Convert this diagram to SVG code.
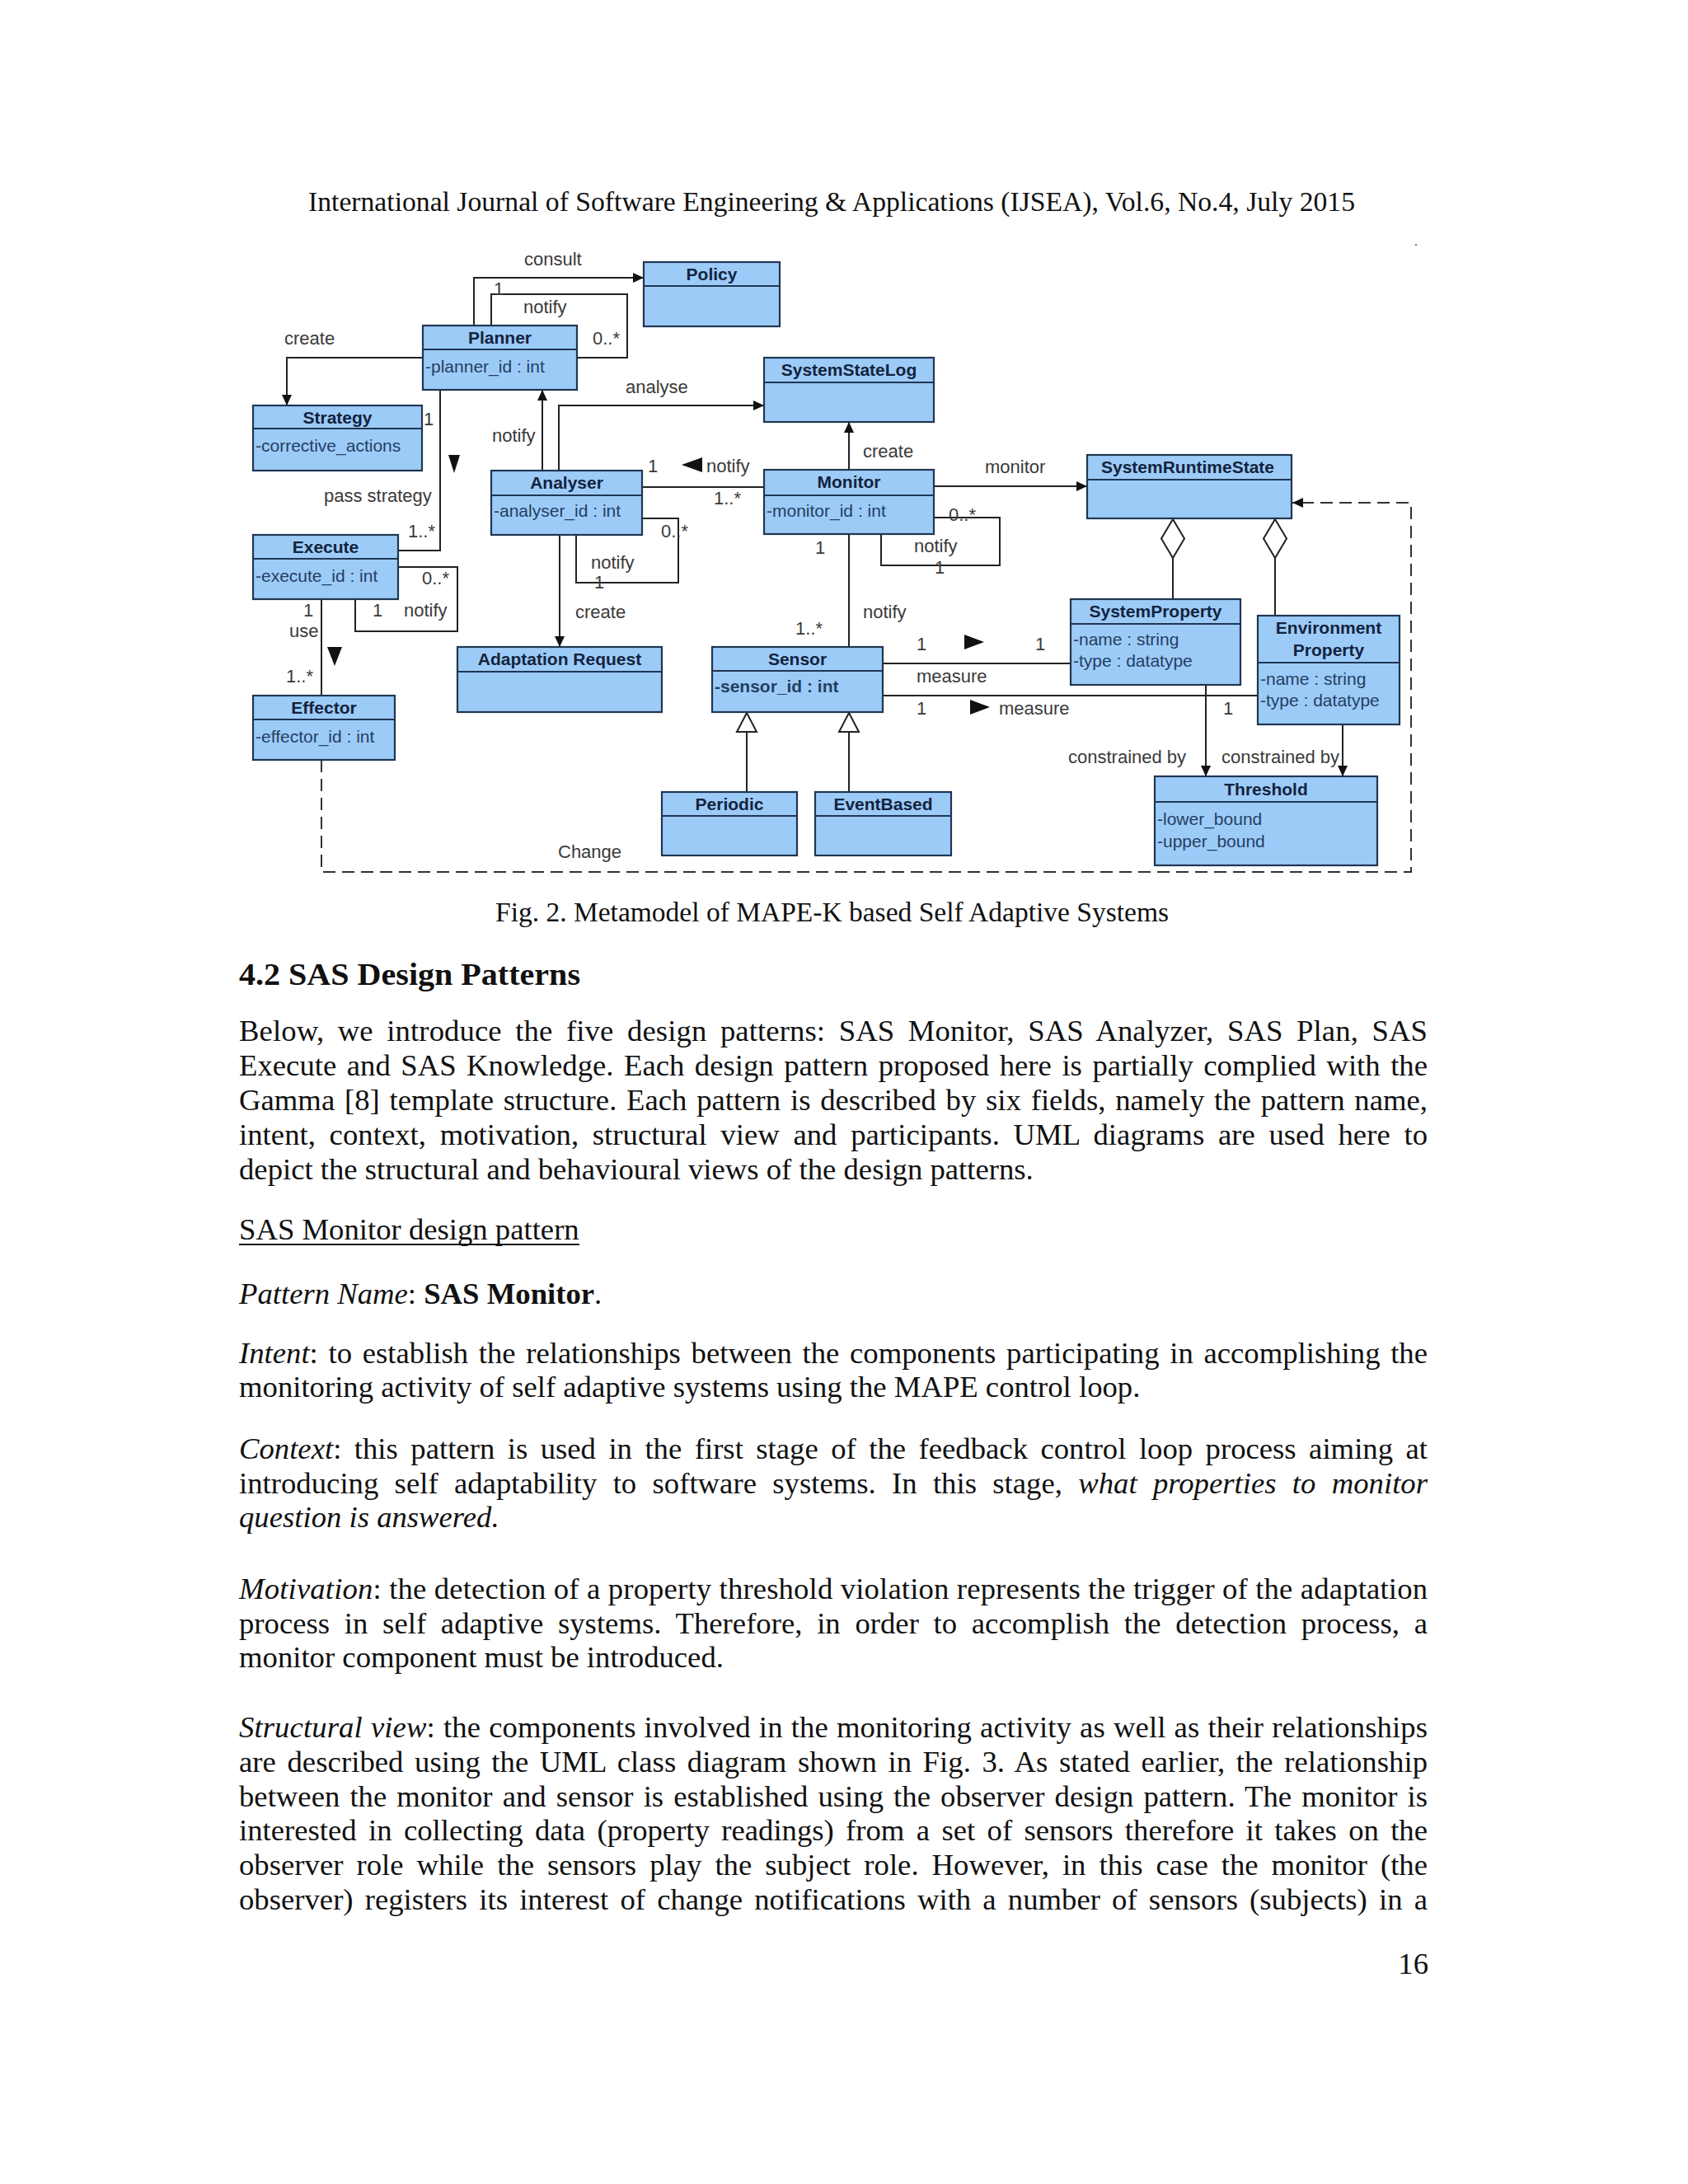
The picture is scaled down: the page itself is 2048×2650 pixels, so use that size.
<svg xmlns="http://www.w3.org/2000/svg" width="2048" height="2650" viewBox="0 0 2048 2650">
<defs>
<style>
.box{fill:#9dcbf8;stroke:#1f3652;stroke-width:2.2}
.sep{stroke:#1f3652;stroke-width:2.2}
.ttl{font-family:"Liberation Sans",Arial,sans-serif;font-size:21px;font-weight:bold;fill:#13233d;text-anchor:middle}
.att{font-family:"Liberation Sans",Arial,sans-serif;font-size:21px;fill:#233f62}
.lbl{font-family:"Liberation Sans",Arial,sans-serif;font-size:22px;fill:#3a3a3a}
.ln{fill:none;stroke:#222;stroke-width:2}
.dash{fill:none;stroke:#333;stroke-width:2;stroke-dasharray:15 8}
.tri{fill:#111}
.hol{fill:#fff;stroke:#222;stroke-width:2}
.pg{font-family:"Liberation Serif","Times New Roman",serif;fill:#111}
.bd{font-size:36.7px}
</style>
<marker id="arr" markerUnits="userSpaceOnUse" markerWidth="14" markerHeight="14" refX="13" refY="7" orient="auto">
<path d="M0,1 L13,7 L0,13 z" fill="#111"/>
</marker>
</defs>
<rect width="2048" height="2650" fill="#ffffff"/>

<!-- page header -->
<text class="pg" x="374" y="256" font-size="33.5" textLength="1270" lengthAdjust="spacingAndGlyphs">International Journal of Software Engineering &amp; Applications (IJSEA), Vol.6, No.4, July 2015</text>
<rect x="1717" y="296" width="2" height="2" fill="#777"/>

<!-- connectors -->
<g id="connectors">
<path class="ln" d="M575,395 V337 H781" marker-end="url(#arr)"/>
<path class="ln" d="M596,395 V357 H761 V434 H700"/>
<path class="ln" d="M513,434 H348 V492" marker-end="url(#arr)"/>
<path class="ln" d="M534,473 V668 H483"/>
<path class="ln" d="M658,571 V473" marker-end="url(#arr)"/>
<path class="ln" d="M678,571 V492 H927" marker-end="url(#arr)"/>
<path class="ln" d="M779,591 H927"/>
<path class="ln" d="M779,629 H823 V707 H699 V649"/>
<path class="ln" d="M679,649 V785" marker-end="url(#arr)"/>
<path class="ln" d="M1030,570 V512" marker-end="url(#arr)"/>
<path class="ln" d="M1133,590 H1319" marker-end="url(#arr)"/>
<path class="ln" d="M1133,628 H1213 V686 H1069 V648"/>
<path class="ln" d="M1030,648 V785"/>
<path class="ln" d="M1071,805 H1299"/>
<path class="ln" d="M1071,844 H1526"/>
<path class="ln" d="M1423,677 V727"/>
<path class="ln" d="M1547,677 V747"/>
<polygon class="hol" points="1423,630 1437,653.5 1423,677 1409,653.5"/>
<polygon class="hol" points="1547,630 1561,653.5 1547,677 1533,653.5"/>
<path class="ln" d="M1463,831 V942" marker-end="url(#arr)"/>
<path class="ln" d="M1629,879 V942" marker-end="url(#arr)"/>
<path class="ln" d="M906,961 V888"/>
<path class="ln" d="M1030,961 V888"/>
<polygon class="hol" points="906,865 894,888 918,888"/>
<polygon class="hol" points="1030,865 1018,888 1042,888"/>
<path class="ln" d="M483,688 H555 V766 H431 V727"/>
<path class="ln" d="M390,727 V844"/>
<path class="dash" d="M390,922 V1058 H1712 V610 H1568" marker-end="url(#arr)"/>

<polygon class="tri" points="544,552 558,552 551,574"/>
<polygon class="tri" points="852,555 852,573 827,564"/>
<polygon class="tri" points="1170,770 1170,788 1194,779"/>
<polygon class="tri" points="1177,849 1177,867 1201,858"/>
<polygon class="tri" points="397,785 415,785 406,808"/>

<text class="lbl" x="636" y="322">consult</text>
<text class="lbl" x="599" y="358">1</text>
<text class="lbl" x="635" y="380">notify</text>
<text class="lbl" x="719" y="418">0..*</text>
<text class="lbl" x="345" y="418">create</text>
<text class="lbl" x="514" y="516">1</text>
<text class="lbl" x="393" y="609">pass strategy</text>
<text class="lbl" x="495" y="652">1..*</text>
<text class="lbl" x="597" y="536">notify</text>
<text class="lbl" x="759" y="477">analyse</text>
<text class="lbl" x="786" y="573">1</text>
<text class="lbl" x="857" y="573">notify</text>
<text class="lbl" x="866" y="612">1..*</text>
<text class="lbl" x="802" y="652">0..*</text>
<text class="lbl" x="717" y="690">notify</text>
<text class="lbl" x="721" y="714">1</text>
<text class="lbl" x="698" y="750">create</text>
<text class="lbl" x="1047" y="555">create</text>
<text class="lbl" x="1195" y="574">monitor</text>
<text class="lbl" x="1151" y="632">0..*</text>
<text class="lbl" x="1109" y="670">notify</text>
<text class="lbl" x="1134" y="696">1</text>
<text class="lbl" x="989" y="672">1</text>
<text class="lbl" x="1047" y="750">notify</text>
<text class="lbl" x="965" y="770">1..*</text>
<text class="lbl" x="1112" y="789">1</text>
<text class="lbl" x="1256" y="789">1</text>
<text class="lbl" x="1112" y="828">measure</text>
<text class="lbl" x="1112" y="867">1</text>
<text class="lbl" x="1212" y="867">measure</text>
<text class="lbl" x="1484" y="867">1</text>
<text class="lbl" x="1296" y="926">constrained by</text>
<text class="lbl" x="1482" y="926">constrained by</text>
<text class="lbl" x="512" y="709">0..*</text>
<text class="lbl" x="452" y="748">1</text>
<text class="lbl" x="490" y="748">notify</text>
<text class="lbl" x="368" y="748">1</text>
<text class="lbl" x="351" y="773">use</text>
<text class="lbl" x="347" y="828">1..*</text>
<text class="lbl" x="677" y="1041">Change</text>
</g>

<!-- nodes -->
<g id="policy">
<rect class="box" x="781" y="318" width="165" height="78"/>
<line class="sep" x1="781" y1="347" x2="946" y2="347"/>
<text class="ttl" x="863.5" y="340">Policy</text>
</g>
<g id="planner">
<rect class="box" x="513" y="395" width="187" height="78"/>
<line class="sep" x1="513" y1="424" x2="700" y2="424"/>
<text class="ttl" x="606.5" y="417">Planner</text>
<text class="att" x="516" y="452">-planner_id : int</text>
</g>
<g id="systemstatelog">
<rect class="box" x="927" y="434" width="206" height="78"/>
<line class="sep" x1="927" y1="464" x2="1133" y2="464"/>
<text class="ttl" x="1030" y="456">SystemStateLog</text>
</g>
<g id="strategy">
<rect class="box" x="307" y="492" width="205" height="79"/>
<line class="sep" x1="307" y1="520" x2="512" y2="520"/>
<text class="ttl" x="409.5" y="514">Strategy</text>
<text class="att" x="310" y="548">-corrective_actions</text>
</g>
<g id="analyser">
<rect class="box" x="596" y="571" width="183" height="78"/>
<line class="sep" x1="596" y1="601" x2="779" y2="601"/>
<text class="ttl" x="687.5" y="593">Analyser</text>
<text class="att" x="599" y="627">-analyser_id : int</text>
</g>
<g id="monitor">
<rect class="box" x="927" y="570" width="206" height="78"/>
<line class="sep" x1="927" y1="601" x2="1133" y2="601"/>
<text class="ttl" x="1030" y="592">Monitor</text>
<text class="att" x="930" y="627">-monitor_id : int</text>
</g>
<g id="systemruntimestate">
<rect class="box" x="1319" y="552" width="248" height="77"/>
<line class="sep" x1="1319" y1="582" x2="1567" y2="582"/>
<text class="ttl" x="1441" y="574">SystemRuntimeState</text>
</g>
<g id="execute">
<rect class="box" x="307" y="649" width="176" height="78"/>
<line class="sep" x1="307" y1="678" x2="483" y2="678"/>
<text class="ttl" x="395" y="671">Execute</text>
<text class="att" x="310" y="706">-execute_id : int</text>
</g>
<g id="systemproperty">
<rect class="box" x="1299" y="727" width="206" height="104"/>
<line class="sep" x1="1299" y1="757" x2="1505" y2="757"/>
<text class="ttl" x="1402" y="749">SystemProperty</text>
<text class="att" x="1302" y="783">-name : string</text>
<text class="att" x="1302" y="809">-type : datatype</text>
</g>
<g id="environmentproperty">
<rect class="box" x="1526" y="747" width="172" height="132"/>
<line class="sep" x1="1526" y1="804" x2="1698" y2="804"/>
<text class="ttl" x="1612" y="769">Environment</text>
<text class="ttl" x="1612" y="796">Property</text>
<text class="att" x="1529" y="831">-name : string</text>
<text class="att" x="1529" y="857">-type : datatype</text>
</g>
<g id="adaptationrequest">
<rect class="box" x="555" y="785" width="248" height="79"/>
<line class="sep" x1="555" y1="815" x2="803" y2="815"/>
<text class="ttl" x="679" y="807">Adaptation Request</text>
</g>
<g id="sensor">
<rect class="box" x="864" y="785" width="207" height="79"/>
<line class="sep" x1="864" y1="814" x2="1071" y2="814"/>
<text class="ttl" x="967.5" y="807">Sensor</text>
<text class="att" x="867" y="840" font-weight="bold">-sensor_id : int</text>
</g>
<g id="effector">
<rect class="box" x="307" y="844" width="172" height="78"/>
<line class="sep" x1="307" y1="873" x2="479" y2="873"/>
<text class="ttl" x="393" y="866">Effector</text>
<text class="att" x="310" y="901">-effector_id : int</text>
</g>
<g id="periodic">
<rect class="box" x="803" y="961" width="164" height="77"/>
<line class="sep" x1="803" y1="990" x2="967" y2="990"/>
<text class="ttl" x="885" y="983">Periodic</text>
</g>
<g id="eventbased">
<rect class="box" x="989" y="961" width="165" height="77"/>
<line class="sep" x1="989" y1="990" x2="1154" y2="990"/>
<text class="ttl" x="1071.5" y="983">EventBased</text>
</g>
<g id="threshold">
<rect class="box" x="1401" y="942" width="270" height="108"/>
<line class="sep" x1="1401" y1="973" x2="1671" y2="973"/>
<text class="ttl" x="1536" y="965">Threshold</text>
<text class="att" x="1404" y="1001">-lower_bound</text>
<text class="att" x="1404" y="1028">-upper_bound</text>
</g>

<!-- caption and body text -->
<text class="pg" x="601" y="1118" font-size="33.5" textLength="817" lengthAdjust="spacingAndGlyphs">Fig. 2. Metamodel of MAPE-K based Self Adaptive Systems</text>
<text class="pg" x="290" y="1195" font-size="38" font-weight="bold" textLength="414" lengthAdjust="spacingAndGlyphs">4.2 SAS Design Patterns</text>

<text class="pg bd" x="290" y="1263" word-spacing="7.3" textLength="1442" lengthAdjust="spacing">Below, we introduce the five design patterns: SAS Monitor, SAS Analyzer, SAS Plan, SAS</text>
<text class="pg bd" x="290" y="1305" word-spacing="3.3" textLength="1442" lengthAdjust="spacing">Execute and SAS Knowledge. Each design pattern proposed here is partially complied with the</text>
<text class="pg bd" x="290" y="1347" word-spacing="2.6" textLength="1442" lengthAdjust="spacing">Gamma [8] template structure. Each pattern is described by six fields, namely the pattern name,</text>
<text class="pg bd" x="290" y="1389" word-spacing="7.5" textLength="1442" lengthAdjust="spacing">intent, context, motivation, structural view and participants. UML diagrams are used here to</text>
<text class="pg bd" x="290" y="1431">depict the structural and behavioural views of the design patterns.</text>

<text class="pg bd" x="290" y="1504">SAS Monitor design pattern</text>
<line x1="290" y1="1510" x2="703" y2="1510" stroke="#111" stroke-width="2"/>

<text class="pg bd" x="290" y="1582"><tspan font-style="italic">Pattern Name</tspan>: <tspan font-weight="bold">SAS Monitor</tspan>.</text>

<text class="pg bd" x="290" y="1654" word-spacing="3.5" textLength="1442" lengthAdjust="spacing"><tspan font-style="italic">Intent</tspan>: to establish the relationships between the components participating in accomplishing the</text>
<text class="pg bd" x="290" y="1695">monitoring activity of self adaptive systems using the MAPE control loop.</text>

<text class="pg bd" x="290" y="1770" word-spacing="6.3" textLength="1442" lengthAdjust="spacing"><tspan font-style="italic">Context</tspan>: this pattern is used in the first stage of the feedback control loop process aiming at</text>
<text class="pg bd" x="290" y="1812" word-spacing="10.1" textLength="1442" lengthAdjust="spacing">introducing self adaptability to software systems. In this stage, <tspan font-style="italic">what properties to monitor</tspan></text>
<text class="pg bd" x="290" y="1853" font-style="italic">question is answered.</text>

<text class="pg bd" x="290" y="1940" textLength="1442" lengthAdjust="spacing"><tspan font-style="italic">Motivation</tspan>:  the detection of a property threshold violation represents the trigger of the adaptation</text>
<text class="pg bd" x="290" y="1982" word-spacing="8.5" textLength="1442" lengthAdjust="spacing">process in self adaptive systems. Therefore, in order to accomplish the detection process, a</text>
<text class="pg bd" x="290" y="2023">monitor component must be introduced.</text>

<text class="pg bd" x="290" y="2108" word-spacing="0.8" textLength="1442" lengthAdjust="spacing"><tspan font-style="italic">Structural view</tspan>: the components involved in the monitoring activity as well as  their relationships</text>
<text class="pg bd" x="290" y="2150" word-spacing="4.3" textLength="1442" lengthAdjust="spacing">are described using the UML class diagram shown in Fig. 3. As stated earlier, the relationship</text>
<text class="pg bd" x="290" y="2192" word-spacing="2.9" textLength="1442" lengthAdjust="spacing">between the monitor and sensor is established using the observer design pattern. The monitor is</text>
<text class="pg bd" x="290" y="2233" word-spacing="5.2" textLength="1442" lengthAdjust="spacing">interested in collecting data (property readings) from a set of sensors therefore it takes on the</text>
<text class="pg bd" x="290" y="2275" word-spacing="6.8" textLength="1442" lengthAdjust="spacing">observer role while the sensors play the subject role. However, in this case the monitor (the</text>
<text class="pg bd" x="290" y="2317" word-spacing="5.0" textLength="1442" lengthAdjust="spacing">observer) registers its interest of change notifications with a number of sensors (subjects) in a</text>

<text class="pg bd" x="1733" y="2395" text-anchor="end">16</text>
</svg>
